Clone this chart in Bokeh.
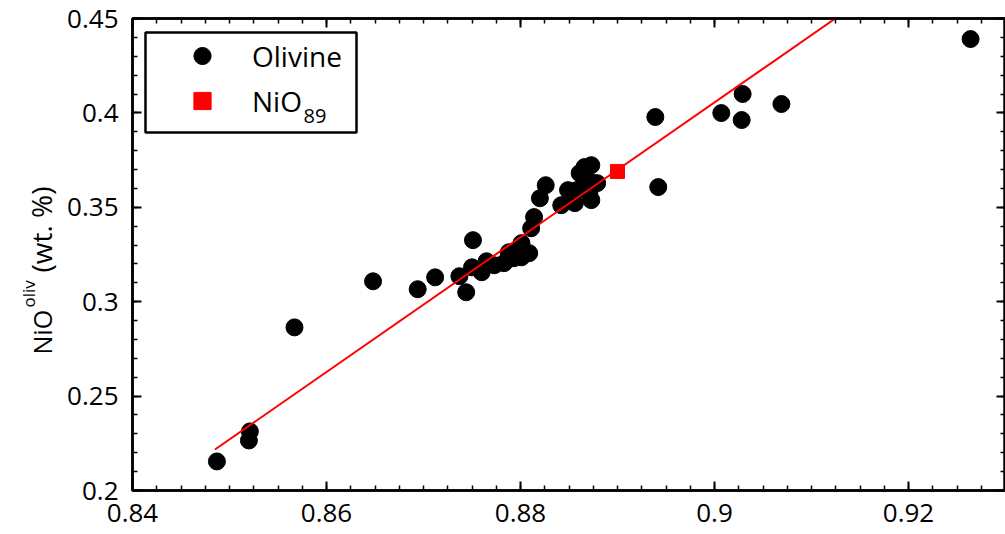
import numpy as np
from math import pi
from bokeh.plotting import figure
from bokeh.layouts import row
from bokeh.models import (Range1d, FixedTicker, LinearAxis, Legend, LegendItem, Label,
                          BoxAnnotation)
from bokeh.embed import file_html
from bokeh.resources import INLINE

olivine_fo = [0.8487, 0.8520, 0.8521, 0.8567, 0.8648, 0.8694, 0.8712, 0.8737, 0.8744,
              0.8751, 0.8750, 0.8760, 0.8765, 0.8773, 0.8783, 0.8788, 0.8793, 0.8801,
              0.8809, 0.8801, 0.8811, 0.8814, 0.8820, 0.8826, 0.8842, 0.8849, 0.8856,
              0.8858, 0.8861, 0.8866, 0.8873, 0.8867, 0.8873, 0.8873, 0.8879, 0.8871,
              0.8939, 0.8942, 0.9007, 0.9029, 0.9028, 0.9069, 0.9264]
olivine_nio = [0.2154, 0.2265, 0.2313, 0.2864, 0.3108, 0.3066, 0.3129, 0.3135, 0.3050,
               0.3326, 0.3182, 0.3156, 0.3214, 0.3193, 0.3204, 0.3262, 0.3230, 0.3235,
               0.3257, 0.3310, 0.3389, 0.3448, 0.3548, 0.3617, 0.3511, 0.3591, 0.3522,
               0.3591, 0.3681, 0.3713, 0.3723, 0.3622, 0.3538, 0.3633, 0.3628, 0.3575,
               0.3978, 0.3607, 0.3999, 0.4100, 0.3962, 0.4047, 0.4391]
nio89_fo = [0.890]
nio89_nio = [0.369]
fit_fo = [0.8485, 0.9150]
fit_nio = [0.2217, 0.4591]

x_ticks = [0.84, 0.86, 0.88, 0.90, 0.92]
x_tick_labels = ["0.84", "0.86", "0.88", "0.9", "0.92"]
y_ticks = [0.20, 0.25, 0.30, 0.35, 0.40, 0.45]
y_tick_labels = ["0.2", "0.25", "0.3", "0.35", "0.4", "0.45"]

FONT = "Open Sans"
LABEL_W = 64

p = figure(width=1005 - LABEL_W, height=534, output_backend="svg", toolbar_location=None,
           x_range=Range1d(0.84, 0.93), y_range=Range1d(0.2, 0.45),
           min_border_left=130 - LABEL_W, min_border_right=0, min_border_top=18,
           min_border_bottom=44,
           background_fill_color="white", border_fill_color="white")
p.xgrid.visible = False
p.ygrid.visible = False
p.outline_line_color = "black"
p.outline_line_width = 2.5

x_minor = [round(v, 5) for v in np.arange(0.84, 0.9301, 0.0025)]
y_minor = [round(v, 5) for v in np.arange(0.20, 0.4501, 0.01)]
xt = FixedTicker(ticks=x_ticks, minor_ticks=x_minor)
yt = FixedTicker(ticks=y_ticks, minor_ticks=y_minor)

def style(ax, ticker, labels, ticks, show, standoff=12):
    ax.ticker = ticker
    ax.axis_line_color = "black"
    ax.axis_line_width = 2.5
    ax.major_tick_in = 9
    ax.major_tick_out = 0
    ax.minor_tick_in = 5
    ax.minor_tick_out = 0
    ax.major_tick_line_width = 2
    ax.minor_tick_line_width = 1.5
    ax.major_tick_line_color = "black"
    ax.minor_tick_line_color = "black"
    ax.major_label_text_font = FONT
    ax.major_label_text_color = "black"
    if show:
        ax.major_label_overrides = {t: l for t, l in zip(ticks, labels)}
        ax.major_label_text_font_size = "26px"
        ax.major_label_standoff = standoff
    else:
        ax.major_label_overrides = {t: "" for t in ticks}
        ax.major_label_text_font_size = "1px"
        ax.major_label_standoff = 0

style(p.xaxis[0], xt, x_tick_labels, x_ticks, True, 13)
style(p.yaxis[0], yt, y_tick_labels, y_ticks, True, 14)
top_ax = LinearAxis()
right_ax = LinearAxis()
style(top_ax, xt, x_tick_labels, x_ticks, False)
style(right_ax, yt, y_tick_labels, y_ticks, False)
p.add_layout(top_ax, "above")
p.add_layout(right_ax, "right")

r_ol = p.scatter(olivine_fo, olivine_nio, size=17, color="black")
r_line = p.line(fit_fo, fit_nio, color="red", line_width=2)
r_sq = p.scatter(nio89_fo, nio89_nio, marker="square", size=14, color="red")

p.add_layout(BoxAnnotation(left=145 - LABEL_W, right=356 - LABEL_W, top=32, bottom=132,
                           left_units="canvas", right_units="canvas",
                           top_units="canvas", bottom_units="canvas",
                           fill_color="white", fill_alpha=1.0,
                           line_color="black", line_width=2.5, line_alpha=1.0))

legend = Legend(items=[LegendItem(label="Olivine", renderers=[r_ol]),
                       LegendItem(label="NiO", renderers=[r_sq])],
                location=(20, 368), glyph_width=100, glyph_height=43, spacing=2,
                padding=0, label_standoff=0, label_text_font=FONT,
                label_text_font_size="28px", label_text_color="black",
                border_line_alpha=0, background_fill_alpha=0, margin=0)
p.add_layout(legend)

p.add_layout(Label(x=303 - LABEL_W, y=115, x_units="canvas", y_units="canvas", text="89",
                   text_font=FONT, text_font_size="20px", text_color="black",
                   text_baseline="middle", text_align="left"))

# y-axis title in a narrow side panel
lab = figure(width=LABEL_W, height=534, output_backend="svg", toolbar_location=None,
             x_range=Range1d(0, 1), y_range=Range1d(0, 1),
             x_axis_type=None, y_axis_type=None, min_border=0,
             outline_line_color=None, background_fill_color="white",
             border_fill_color="white")
lab.grid.visible = False
lab.add_layout(Label(x=41, y=354, x_units="canvas", y_units="canvas", text="NiO",
                     angle=pi / 2, text_font=FONT, text_font_size="25px",
                     text_color="black", text_baseline="middle", text_align="left"))
lab.add_layout(Label(x=27.5, y=307, x_units="canvas", y_units="canvas", text="oliv",
                     angle=pi / 2, text_font=FONT, text_font_size="17px",
                     text_color="black", text_baseline="middle", text_align="left"))
lab.add_layout(Label(x=40, y=272, x_units="canvas", y_units="canvas", text="(wt. %)",
                     angle=pi / 2, text_font=FONT, text_font_size="28px",
                     text_color="black", text_baseline="middle", text_align="left"))

layout = row(lab, p, spacing=0)
open("out.html", "w").write(file_html(layout, INLINE))
